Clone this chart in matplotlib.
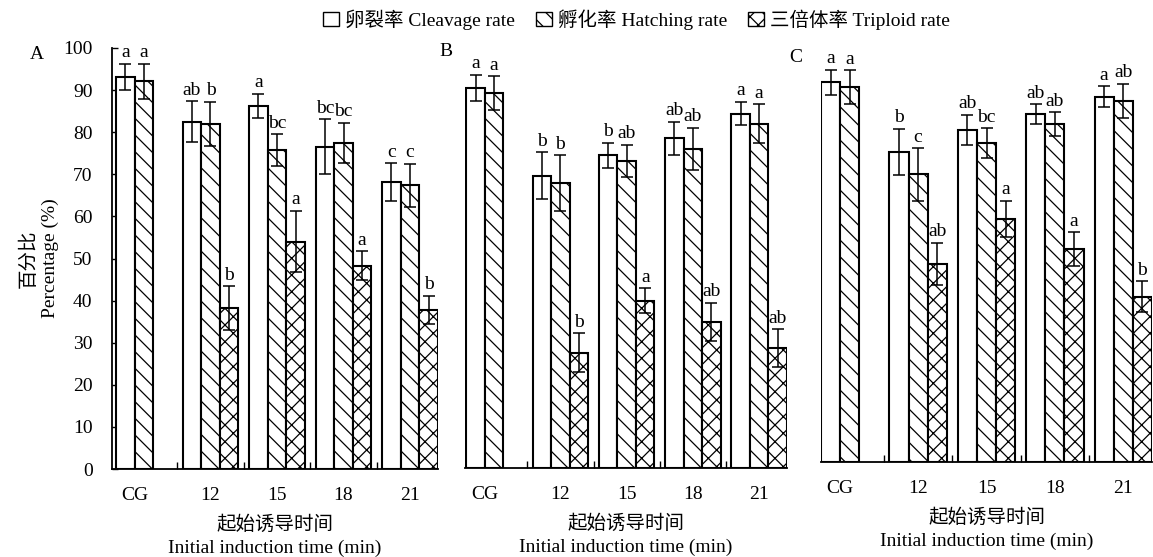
import matplotlib.pyplot as plt
from matplotlib.patches import Patch
import numpy as np

plt.rcParams['font.family'] = ['Liberation Serif', 'Noto Sans CJK SC']
plt.rcParams['hatch.linewidth'] = 0.9

groups = ['CG', '12', '15', '18', '21']
series_names = ['卵裂率 Cleavage rate', '孵化率 Hatching rate', '三倍体率 Triploid rate']
hatches = ['', '\\\\', 'xx']

# panel A
a_cleave = [93.2, 82.5, 86.2, 76.6, 68.1]
a_cleave_err = [3.1, 4.8, 2.9, 6.5, 4.5]
a_hatch = [92.1, 82.0, 75.7, 77.5, 67.4]
a_hatch_err = [4.2, 5.2, 3.8, 4.7, 5.1]
a_trip = [None, 38.2, 54.0, 48.3, 37.8]
a_trip_err = [None, 5.2, 7.3, 3.4, 3.3]
a_letters = [['a', 'ab', 'a', 'bc', 'c'],
             ['a', 'b', 'bc', 'bc', 'c'],
             [None, 'b', 'a', 'a', 'b']]

# panel B
b_cleave = [90.3, 69.4, 74.3, 78.3, 84.2]
b_cleave_err = [3.1, 5.6, 3.0, 4.0, 2.8]
b_hatch = [89.1, 67.7, 73.0, 75.8, 81.8]
b_hatch_err = [4.0, 6.6, 3.8, 5.0, 4.6]
b_trip = [None, 27.4, 39.7, 34.7, 28.4]
b_trip_err = [None, 4.6, 3.0, 4.6, 4.5]
b_letters = [['a', 'b', 'b', 'ab', 'a'],
             ['a', 'b', 'ab', 'ab', 'a'],
             [None, 'b', 'a', 'ab', 'ab']]

# panel C
c_cleave = [90.2, 73.7, 78.9, 82.7, 86.8]
c_cleave_err = [3.0, 5.5, 3.6, 2.3, 2.4]
c_hatch = [89.1, 68.3, 75.8, 80.3, 85.7]
c_hatch_err = [4.0, 6.2, 3.5, 2.8, 4.1]
c_trip = [None, 47.1, 57.7, 50.6, 39.3]
c_trip_err = [None, 5.0, 4.3, 4.0, 3.6]
c_letters = [['a', 'b', 'ab', 'ab', 'a'],
             ['a', 'c', 'bc', 'ab', 'ab'],
             [None, 'ab', 'a', 'a', 'b']]

W = 0.28
FS = 14

def draw_panel(ax, vals, errs, letters, tag, xlim):
    x = np.arange(len(groups))
    for k in range(3):
        for i in range(len(groups)):
            v = vals[k][i]
            if v is None:
                continue
            xi = x[i] + (k - 1) * W
            ax.bar(xi, v, width=W, facecolor='white', edgecolor='black',
                   linewidth=1.5, hatch=hatches[k], zorder=2)
            ax.errorbar(xi, v, yerr=errs[k][i], fmt='none', ecolor='black',
                        elinewidth=1.1, capsize=4.5, capthick=1.1, zorder=3)
            ax.text(xi, v + errs[k][i] + 0.6, letters[k][i], ha='center',
                    va='bottom', fontsize=FS)
    ax.set_xlim(*xlim)
    ax.set_ylim(0, 100)
    pos = x.astype(float)
    pos[0] = -W / 2
    ax.set_xticks(pos)
    ax.set_xticklabels(groups, fontsize=FS)
    ax.set_xticks(x[:-1] + 0.5, minor=True)
    ax.tick_params(axis='x', which='major', length=0, pad=13)
    ax.tick_params(axis='x', which='minor', direction='in', length=5, width=1)
    for s in ['top', 'right']:
        ax.spines[s].set_visible(False)
    ax.spines['bottom'].set_linewidth(1.3)
    ax.set_xlabel('起始诱导时间\nInitial induction time (min)', fontsize=FS,
                  labelpad=8, linespacing=1.45)
    ax.text(tag[1], tag[2], tag[0], transform=ax.transAxes, fontsize=FS,
            ha='center', va='center')

fig = plt.figure(figsize=(11.53, 5.57), dpi=100)
axA = fig.add_axes([112 / 1153, 88 / 557, 326 / 1153, 421 / 557])
axB = fig.add_axes([465 / 1153, 89 / 557, 322 / 1153, 421 / 557])
axC = fig.add_axes([821 / 1153, 95 / 557, 331 / 1153, 421 / 557])

draw_panel(axA, [a_cleave, a_hatch, a_trip], [a_cleave_err, a_hatch_err, a_trip_err],
           a_letters, ('A', -0.23, 0.985), (-0.48, 4.42))
draw_panel(axB, [b_cleave, b_hatch, b_trip], [b_cleave_err, b_hatch_err, b_trip_err],
           b_letters, ('B', -0.06, 0.99), (-0.44, 4.42))
draw_panel(axC, [c_cleave, c_hatch, c_trip], [c_cleave_err, c_hatch_err, c_trip_err],
           c_letters, ('C', -0.075, 0.96), (-0.42, 4.42))

axA.set_yticks(np.arange(0, 101, 10))
axA.tick_params(axis='y', direction='in', length=4, width=1, labelsize=FS, pad=14)
axA.spines['left'].set_linewidth(1.3)
axA.set_ylabel('百分比\nPercentage (%)', fontsize=FS, labelpad=3, linespacing=1.3)
for ax in (axB, axC):
    ax.spines['left'].set_visible(False)
    ax.set_yticks([])

handles = [Patch(facecolor='white', edgecolor='black', hatch=h, linewidth=1.0) for h in hatches]
fig.legend(handles, series_names, loc='upper center', bbox_to_anchor=(0.552, 1.015),
           ncol=3, frameon=False, fontsize=FS, handlelength=0.8, handleheight=0.8,
           handletextpad=0.3, columnspacing=1.1)

fig.savefig('out.png', dpi=100)
